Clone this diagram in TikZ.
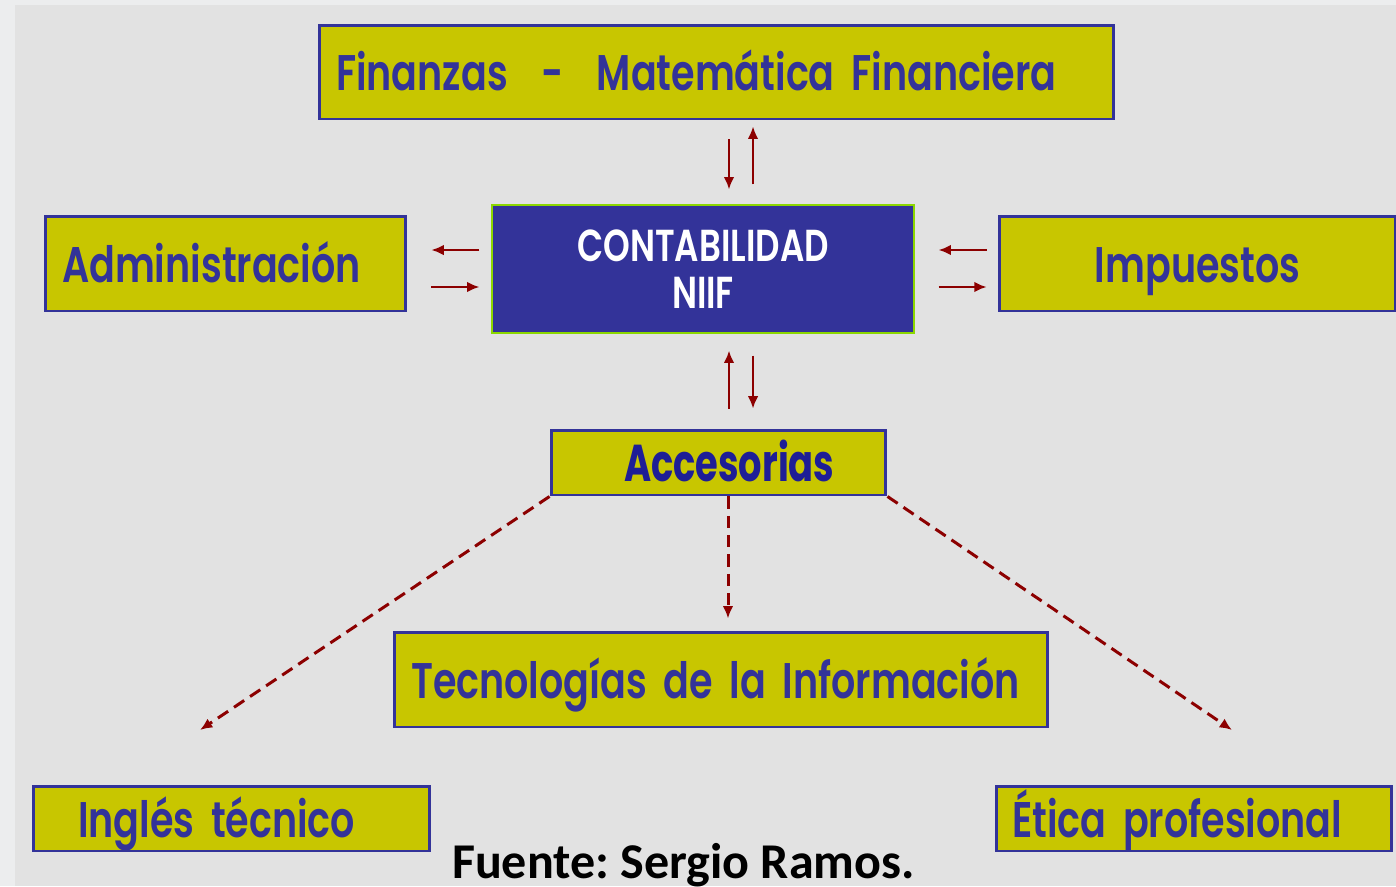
\documentclass[tikz,border=0pt]{standalone}
\usepackage{fontspec}
\usepackage{xcolor}
\usetikzlibrary{arrows,arrows.meta,shapes,calc,positioning}
\newfontfamily\boxfont[FakeStretch=0.76, BoldFont={* SemiBold}]{Poppins}
\newfontfamily\accfont[FakeStretch=0.71]{Poppins}
\newfontfamily\srcfont{Carlito}
\definecolor{bgstrip}{RGB}{236,237,238}
\definecolor{bgmain}{RGB}{226,226,226}
\definecolor{boxyellow}{RGB}{200,198,0}
\definecolor{boxblue}{RGB}{51,51,153}
\definecolor{accblue}{RGB}{30,30,150}
\definecolor{linkred}{RGB}{140,0,0}

\begin{document}
\frenchspacing
\begin{tikzpicture}[x=0.02cm, y=-0.02cm]
		\tikzstyle{every node}=[font=\boxfont\bfseries\fontsize{28.5}{30}\selectfont]
		\tikzset{
			area/.style={draw=boxblue, line width=1.7pt, fill=boxyellow, text=boxblue, inner sep=0pt, align=left, text height=26pt, text depth=4.4pt},
			link/.style={draw=linkred, line width=1.2pt, -{Latex[length=7pt,width=6pt]}},
			dashlink/.style={link, dash pattern=on 7pt off 4pt, line width=1.7pt}
		}
		% background
		\fill[bgstrip] (0,0) rectangle (1396,886);
		\fill[bgmain] (15,5) rectangle (1396,886);
		\useasboundingbox (0,0) rectangle (1396,886);
		% boxes
		\node [area, minimum width=15.9cm, minimum height=1.88cm, text width=15.22cm] (fin) at (716.5,72) {\mbox{Finanzas \ - \ Matemática Financiera}};
		\node [area, fill=boxblue, draw=boxyellow!70!green, line width=0.8pt, text=white, align=center, text height=, text depth=, minimum width=8.44cm, minimum height=2.56cm, font=\boxfont\bfseries\fontsize{25.5}{27}\selectfont] (cont) at (703,269) {CONTABILIDAD\\NIIF};
		\node [area, minimum width=7.22cm, minimum height=1.9cm, text width=6.54cm] (adm) at (225.5,263.5) {Administración};
		\node [area, minimum width=7.94cm, minimum height=1.9cm, align=center] (imp) at (1197.5,263.5) {Impuestos};
		\node [area, minimum width=6.7cm, minimum height=1.3cm, text width=6.02cm, text=accblue, font=\accfont\bfseries\fontsize{29.5}{31}\selectfont] (acc) at (718.5,462.5) {\hspace*{1.12cm}Accesorias};
		\node [area, minimum width=13.08cm, minimum height=1.9cm, text width=12.4cm] (tec) at (721,679.5) {\mbox{Tecnologías de la Información}};
		\node [area, minimum width=7.94cm, minimum height=1.3cm, text width=6.14cm] (ing) at (231.5,818.5) {\mbox{Inglés técnico}};
		\node [area, minimum width=7.92cm, minimum height=1.3cm, text width=7.28cm] (eti) at (1194,818.5) {\mbox{Ética profesional}};
		\node [anchor=base, font=\srcfont\bfseries\fontsize{28.5}{30}\selectfont] (src) at (683.5,878) {Fuente: Sergio Ramos.};
		% free ends of the dashed links
		\coordinate (ingend) at (200,730);
		\coordinate (etiend) at (1232,730);
		% links to and from the centre
		\draw [link, shorten <=0.38cm, shorten >=0.3cm] (fin.south -| 729,0) -- (cont.north -| 729,0);
		\draw [link, shorten <=0.4cm, shorten >=0.12cm] (cont.north -| 753,0) -- (fin.south -| 753,0);
		\draw [link, shorten <=0.24cm, shorten >=0.48cm] (cont.west |- 0,250) -- (adm.east |- 0,250);
		\draw [link, shorten <=0.48cm, shorten >=0.24cm] (adm.east |- 0,287) -- (cont.west |- 0,287);
		\draw [link, shorten <=0.22cm, shorten >=0.48cm] (imp.west |- 0,250) -- (cont.east |- 0,250);
		\draw [link, shorten <=0.48cm, shorten >=0.22cm] (cont.east |- 0,287) -- (imp.west |- 0,287);
		\draw [link, shorten <=0.4cm, shorten >=0.34cm] (acc.north -| 729,0) -- (cont.south -| 729,0);
		\draw [link, shorten <=0.44cm, shorten >=0.4cm] (cont.south -| 753,0) -- (acc.north -| 753,0);
		% dashed links from Accesorias
		\draw [dashlink] (acc.south west) -- (ingend);
		\draw [dashlink, shorten >=0.24cm] (acc.south -| 728,0) -- (tec.north -| 728,0);
		\draw [dashlink] (acc.south east) -- (etiend);
	\end{tikzpicture}
\end{document}
